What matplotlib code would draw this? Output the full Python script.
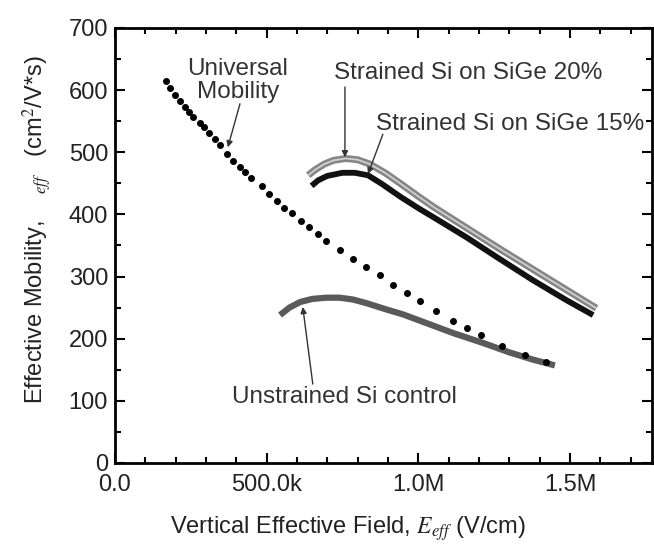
import matplotlib

matplotlib.use("Agg")
import matplotlib.pyplot as plt
from matplotlib.ticker import MultipleLocator

plt.rcParams["font.family"] = ["Liberation Sans", "DejaVu Sans"]
plt.rcParams["mathtext.fontset"] = "stix"

# Universal mobility (dotted curve), field in V/cm, mobility in cm^2/V*s
univ_field = [0.168e6, 0.183e6, 0.198e6, 0.214e6, 0.231e6, 0.245e6, 0.258e6, 0.280e6,
              0.293e6, 0.311e6, 0.330e6, 0.346e6, 0.368e6, 0.390e6, 0.412e6, 0.428e6,
              0.450e6, 0.483e6, 0.508e6, 0.533e6, 0.557e6, 0.585e6, 0.612e6, 0.640e6,
              0.670e6, 0.697e6, 0.741e6, 0.785e6, 0.827e6, 0.873e6, 0.915e6, 0.961e6,
              1.007e6, 1.057e6, 1.115e6, 1.160e6, 1.206e6, 1.277e6, 1.350e6, 1.420e6]
univ_mob = [615, 603, 592, 582, 573, 565, 557, 547, 540, 531, 521, 512, 497, 486, 476, 468,
            458, 446, 433, 422, 411, 402, 390, 380, 369, 357, 343, 328, 315, 302, 287, 273,
            261, 245, 229, 217, 206, 188, 174, 162]

# Strained Si on SiGe 20%
sige20_field = [0.637e6, 0.66e6, 0.69e6, 0.72e6, 0.76e6, 0.80e6, 0.84e6, 0.89e6, 0.94e6,
                1.00e6, 1.05e6, 1.16e6, 1.27e6, 1.38e6, 1.49e6, 1.587e6]
sige20_mob = [463, 472, 481, 487, 490, 488, 481, 467, 450, 429, 412, 378, 344, 311, 278, 249]

# Strained Si on SiGe 15%
sige15_field = [0.648e6, 0.67e6, 0.70e6, 0.75e6, 0.79e6, 0.834e6, 0.88e6, 0.939e6, 1.00e6,
                1.048e6, 1.159e6, 1.269e6, 1.378e6, 1.488e6, 1.576e6]
sige15_mob = [446, 455, 462, 467, 467, 463, 449, 429, 410, 396, 363, 328, 294, 262, 238]

# Unstrained Si control
ctrl_field = [0.544e6, 0.575e6, 0.61e6, 0.65e6, 0.697e6, 0.74e6, 0.785e6, 0.83e6, 0.895e6,
              0.95e6, 1.005e6, 1.06e6, 1.115e6, 1.214e6, 1.30e6, 1.38e6, 1.45e6]
ctrl_mob = [238, 250, 259, 264, 266, 266, 263, 257, 247, 239, 229, 219, 209, 193, 178, 166, 157]

x_ticks = [0, 0.5e6, 1.0e6, 1.5e6]
x_tick_labels = ["0.0", "500.0k", "1.0M", "1.5M"]


def main() -> None:
    fig = plt.figure(figsize=(6.54, 5.49), dpi=100)
    ax = fig.add_axes([0.1758, 0.1567, 0.8211, 0.7923])

    ax.plot(ctrl_field, ctrl_mob, color="#5a5a5a", lw=4.5, solid_capstyle="butt", zorder=2)
    ax.plot(sige15_field, sige15_mob, color="#111111", lw=4.2, solid_capstyle="butt", zorder=2)
    ax.plot(sige20_field, sige20_mob, color="#858585", lw=5.0, solid_capstyle="butt", zorder=2)
    ax.plot(sige20_field, sige20_mob, color="#d0d0d0", lw=1.3, solid_capstyle="butt", zorder=3)
    ax.plot(univ_field, univ_mob, ls="none", marker="o", ms=4, color="black", zorder=4)

    ax.set_xlim(0, 1.77e6)
    ax.set_ylim(0, 700)
    ax.set_xticks(x_ticks)
    ax.set_xticklabels(x_tick_labels)
    ax.xaxis.set_minor_locator(MultipleLocator(1e5))
    ax.yaxis.set_major_locator(MultipleLocator(100))
    ax.yaxis.set_minor_locator(MultipleLocator(50))
    ax.tick_params(which="both", direction="in", top=True, right=True, width=1.5,
                   labelsize=17, colors="black", labelcolor="#222222")
    ax.tick_params(which="major", length=7)
    ax.tick_params(axis="y", which="major", pad=5)
    ax.tick_params(axis="x", which="major", pad=8)
    ax.tick_params(which="minor", length=4)
    for sp in ax.spines.values():
        sp.set_linewidth(2)

    ax.set_xlabel("Vertical Effective Field, $E_{eff}$ (V/cm)", fontsize=17, color="#222222")
    ax.xaxis.set_label_coords(0.434, -0.118)
    ax.set_ylabel("Effective Mobility,    $_{eff}$   (cm$^2$/V*s)", fontsize=17,
                  color="#222222")
    ax.yaxis.set_label_coords(-0.113, 0.537)

    txt = dict(fontsize=17.5, color="#333333", ha="center", va="center")
    arrow = dict(arrowstyle="-|>", color="#333333", lw=1.0, mutation_scale=9,
                 shrinkA=0, shrinkB=0)

    ax.text(0.405e6, 616, "Universal\nMobility", linespacing=1.05, **txt)
    ax.annotate("", xy=(0.372e6, 508), xytext=(0.412e6, 578), arrowprops=arrow)

    ax.text(1.163e6, 628, "Strained Si on SiGe 20%", **txt)
    ax.annotate("", xy=(0.758e6, 492), xytext=(0.758e6, 605), arrowprops=arrow)

    ax.text(1.301e6, 545, "Strained Si on SiGe 15%", **txt)
    ax.annotate("", xy=(0.834e6, 465), xytext=(0.883e6, 529), arrowprops=arrow)

    ax.text(0.755e6, 106, "Unstrained Si control", **txt)
    ax.annotate("", xy=(0.619e6, 251), xytext=(0.652e6, 127), arrowprops=arrow)

    fig.savefig("out.png", dpi=100)
    plt.close(fig)


if __name__ == "__main__":
    main()
